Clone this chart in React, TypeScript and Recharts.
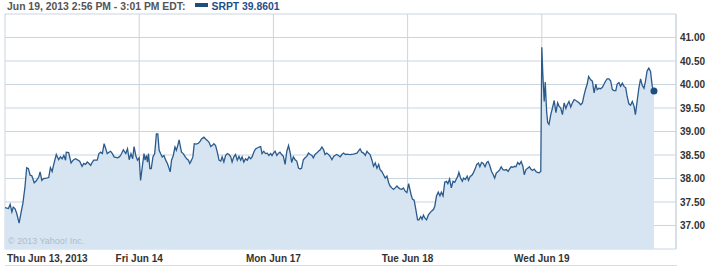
import {
  ComposedChart,
  Area,
  Line,
  XAxis,
  YAxis,
  CartesianGrid,
  ReferenceDot,
} from "recharts";

const headerText = "Jun 19, 2013 2:56 PM - 3:01 PM EDT:";
const ticker = "SRPT";
const lastPrice = 39.8601;
const lastMinute = 326;

const dayLabels = ["Thu Jun 13, 2013", "Fri Jun 14", "Mon Jun 17", "Tue Jun 18", "Wed Jun 19"];
const dayTicks = [0, 390, 780, 1170, 1560, 1950];
const priceTicks = [36.5, 37, 37.5, 38, 38.5, 39, 39.5, 40, 40.5, 41, 41.5];

// minutes after 9:30 and price, per session
const thuMin = [0, 10, 15, 20, 24, 29, 34, 41, 47, 52, 58, 63, 68, 73, 78, 85, 91, 98, 102, 107, 112, 120, 127, 132, 137, 141, 149, 156, 161, 166, 171, 176, 178, 185, 192, 198, 205, 212, 217, 224, 229, 234, 239, 244, 249, 254, 258, 268, 273, 278, 283, 288, 293, 297, 302, 307, 312, 317, 327, 332, 336, 344, 351, 356, 361, 366, 371, 375, 380, 385, 390];
const thuVal = [37.38, 37.36, 37.45, 37.29, 37.39, 37.36, 37.26, 37.05, 37.29, 37.47, 37.82, 38.23, 38.21, 38.07, 38.06, 37.91, 37.95, 38.03, 38.14, 37.96, 38.0, 38.01, 38.02, 38.23, 38.15, 38.28, 38.51, 38.4, 38.46, 38.42, 38.49, 38.39, 38.56, 38.55, 38.33, 38.39, 38.42, 38.39, 38.37, 38.26, 38.32, 38.3, 38.35, 38.32, 38.28, 38.35, 38.39, 38.39, 38.53, 38.56, 38.53, 38.74, 38.63, 38.53, 38.56, 38.58, 38.53, 38.46, 38.44, 38.46, 38.49, 38.61, 38.53, 38.63, 38.4, 38.53, 38.42, 38.68, 38.49, 38.39, 38.44];

const friMin = [4, 9, 14, 17, 21, 24, 27, 31, 35, 40, 45, 50, 54, 58, 62, 67, 72, 77, 82, 87, 90, 94, 99, 104, 108, 112, 116, 120, 123, 128, 133, 138, 143, 147, 152, 156, 160, 166, 172, 178, 181, 188, 193, 198, 203, 208, 212, 217, 222, 227, 232, 237, 241, 246, 251, 256, 261, 266, 270, 275, 280, 285, 290, 295, 299, 304, 309, 314, 319, 324, 328, 333, 338, 343, 348, 353, 357, 362, 367, 372, 377, 382, 386];
const friVal = [37.96, 38.25, 38.53, 38.39, 38.49, 38.35, 38.53, 38.21, 38.21, 38.46, 38.53, 38.95, 38.95, 38.6, 38.53, 38.46, 38.49, 38.39, 38.32, 38.21, 38.14, 38.39, 38.49, 38.67, 38.6, 38.7, 38.82, 38.67, 38.56, 38.53, 38.47, 38.42, 38.39, 38.32, 38.39, 38.46, 38.74, 38.73, 38.75, 38.8, 38.84, 38.88, 38.84, 38.81, 38.77, 38.68, 38.7, 38.74, 38.7, 38.56, 38.39, 38.37, 38.46, 38.35, 38.49, 38.53, 38.51, 38.46, 38.35, 38.46, 38.51, 38.39, 38.47, 38.39, 38.46, 38.35, 38.42, 38.39, 38.46, 38.42, 38.46, 38.56, 38.63, 38.65, 38.67, 38.68, 38.53, 38.58, 38.53, 38.54, 38.49, 38.53, 38.49];

const monMin = [0, 5, 10, 15, 19, 24, 29, 34, 39, 44, 49, 53, 58, 63, 68, 73, 78, 82, 87, 92, 97, 102, 107, 112, 116, 121, 126, 131, 136, 141, 146, 150, 155, 160, 165, 170, 175, 179, 184, 189, 194, 199, 204, 209, 213, 223, 233, 238, 243, 247, 252, 257, 262, 267, 272, 276, 281, 286, 291, 296, 301, 306, 310, 315, 320, 325, 330, 335, 339, 344, 349, 354, 359, 364, 368, 373, 378, 383, 388];
const monVal = [38.54, 38.58, 38.49, 38.54, 38.56, 38.51, 38.47, 38.3, 38.58, 38.7, 38.54, 38.34, 38.46, 38.4, 38.37, 38.22, 38.2, 38.22, 38.4, 38.44, 38.47, 38.54, 38.51, 38.49, 38.44, 38.51, 38.54, 38.58, 38.61, 38.67, 38.61, 38.51, 38.54, 38.51, 38.47, 38.4, 38.47, 38.49, 38.51, 38.49, 38.46, 38.51, 38.54, 38.51, 38.52, 38.51, 38.52, 38.53, 38.54, 38.58, 38.63, 38.56, 38.54, 38.49, 38.58, 38.54, 38.51, 38.4, 38.26, 38.33, 38.22, 38.3, 38.19, 38.15, 38.08, 38.01, 38.05, 37.91, 37.84, 37.8, 37.77, 37.8, 37.84, 37.8, 37.78, 37.77, 37.8, 37.73, 37.7];

const tueMin = [3, 10, 14, 19, 24, 29, 33, 38, 42, 46, 51, 55, 60, 65, 70, 75, 79, 84, 89, 94, 98, 103, 108, 113, 117, 122, 127, 132, 137, 141, 146, 149, 154, 159, 163, 168, 173, 177, 182, 186, 191, 196, 201, 206, 210, 215, 220, 225, 230, 234, 239, 244, 249, 253, 258, 263, 268, 272, 277, 282, 287, 292, 296, 301, 306, 311, 315, 320, 325, 330, 335, 339, 344, 349, 354, 358, 363, 368, 373, 377, 382, 387];
const tueVal = [37.89, 37.66, 37.56, 37.54, 37.34, 37.12, 37.12, 37.19, 37.13, 37.22, 37.15, 37.12, 37.22, 37.27, 37.31, 37.34, 37.41, 37.63, 37.71, 37.63, 37.71, 37.63, 37.92, 37.94, 37.89, 37.99, 37.8, 37.94, 37.92, 37.98, 38.05, 38.13, 38.01, 37.94, 38.01, 37.98, 38.05, 37.96, 38.05, 38.06, 38.12, 38.2, 38.3, 38.33, 38.25, 38.34, 38.32, 38.25, 38.34, 38.36, 38.27, 38.15, 38.08, 38.01, 38.12, 38.15, 38.19, 38.25, 38.19, 38.18, 38.19, 38.15, 38.2, 38.25, 38.24, 38.26, 38.25, 38.34, 38.3, 38.36, 38.26, 38.08, 38.19, 38.22, 38.25, 38.2, 38.17, 38.2, 38.15, 38.13, 38.12, 38.15];

const wedMin = [0, 3, 7, 10, 14, 17, 21, 26, 31, 36, 41, 46, 50, 55, 60, 65, 70, 74, 79, 84, 89, 94, 99, 103, 108, 113, 118, 123, 128, 132, 136, 142, 147, 152, 157, 161, 166, 171, 176, 181, 186, 190, 195, 200, 205, 210, 215, 219, 224, 229, 234, 239, 244, 248, 253, 258, 263, 268, 272, 277, 282, 287, 292, 297, 301, 306, 311, 316, 321, 326];
const wedVal = [40.79, 40.21, 39.64, 40.05, 39.43, 39.19, 39.15, 39.36, 39.5, 39.66, 39.4, 39.61, 39.54, 39.5, 39.36, 39.61, 39.49, 39.57, 39.64, 39.52, 39.61, 39.68, 39.66, 39.64, 39.61, 39.57, 39.61, 39.78, 39.92, 40.01, 40.17, 40.1, 40.07, 39.82, 40.01, 39.89, 39.92, 39.91, 39.94, 40.01, 40.08, 40.12, 40.12, 40.08, 39.89, 39.87, 39.87, 40.01, 40.04, 39.96, 40.03, 39.96, 39.93, 39.75, 39.59, 39.56, 39.64, 39.54, 39.36, 39.64, 39.92, 40.12, 39.98, 39.92, 40.06, 40.29, 40.35, 40.28, 39.96, 39.8601];

const sessions: [number[], number[]][] = [
  [thuMin, thuVal],
  [friMin, friVal],
  [monMin, monVal],
  [tueMin, tueVal],
  [wedMin, wedVal],
];

const data = sessions.flatMap(([mins, vals], d) =>
  mins.map((m, i) => ({ t: d * 390 + m, price: vals[i] }))
);

const gridColor = "#c9d5df";
const lineColor = "#2a5b8c";
const fillColor = "#d6e5f1";
const font = "'Liberation Sans', Arial, sans-serif";

function DayTick(props: any) {
  const { x, y, payload } = props;
  const idx = Math.round(payload.value / 390);
  const label = dayLabels[idx] ?? "";
  return (
    <text
      x={idx === 0 ? x + 2 : x}
      y={y}
      dy={5}
      textAnchor={idx === 0 ? "start" : "middle"}
      fill="#333"
      fontSize={10}
      fontWeight={700}
      fontFamily={font}
    >
      {label}
    </text>
  );
}

function PriceTick(props: any) {
  const { x, y, payload } = props;
  const v = payload.value;
  if (v === priceTicks[0] || v === priceTicks[priceTicks.length - 1]) return <g />;
  return (
    <text x={x} y={y} dy={3.5} textAnchor="start" fill="#333" fontSize={10} fontWeight={700} fontFamily={font}>
      {v.toFixed(2)}
    </text>
  );
}

export default function App() {
  return (
    <div style={{ position: "relative", width: 714, height: 266, background: "#fff", fontFamily: font }}>
      <style>{"body{margin:0}"}</style>
      <ComposedChart width={714} height={266} data={data} margin={{ top: 14, right: 0, bottom: 0, left: 5 }}>
        <Area
          dataKey="price"
          type="linear"
          stroke="none"
          fill={fillColor}
          fillOpacity={1}
          isAnimationActive={false}
        />
        <CartesianGrid stroke={gridColor} strokeWidth={1} />
        <XAxis
          dataKey="t"
          type="number"
          domain={[0, 1950]}
          ticks={dayTicks}
          interval={0}
          axisLine={false}
          tickLine={false}
          height={17}
          tick={<DayTick />}
        />
        <YAxis
          orientation="right"
          type="number"
          domain={[36.5, 41.5]}
          ticks={priceTicks}
          interval={0}
          width={38}
          tickSize={2}
          tickLine={false}
          axisLine={{ stroke: gridColor }}
          tick={<PriceTick />}
        />
        <Line
          dataKey="price"
          type="linear"
          stroke={lineColor}
          strokeWidth={1.3}
          dot={false}
          isAnimationActive={false}
        />
        <ReferenceDot x={1560 + lastMinute} y={lastPrice} r={3.5} fill="#1d4f80" stroke="none" />
      </ComposedChart>

      <div
        style={{
          position: "absolute",
          left: 7,
          top: 0,
          fontSize: 10.4,
          fontWeight: 700,
          lineHeight: "13px",
          color: "#555",
          whiteSpace: "nowrap",
        }}
      >
        {headerText}
        <span
          style={{
            display: "inline-block",
            width: 13,
            height: 4,
            background: "#1f4e7d",
            margin: "0 3px 0 10px",
            verticalAlign: "3px",
          }}
        />
        <span style={{ color: "#1f4f8a" }}>{`${ticker} ${lastPrice}`}</span>
      </div>

      <div
        style={{
          position: "absolute",
          left: 8,
          top: 236,
          fontSize: 9,
          lineHeight: "11px",
          color: "#aebccb",
          whiteSpace: "nowrap",
        }}
      >
        © 2013 Yahoo! Inc.
      </div>

      <div style={{ position: "absolute", left: 5, top: 265, width: 672, height: 1, background: "#dddddd" }} />
    </div>
  );
}
